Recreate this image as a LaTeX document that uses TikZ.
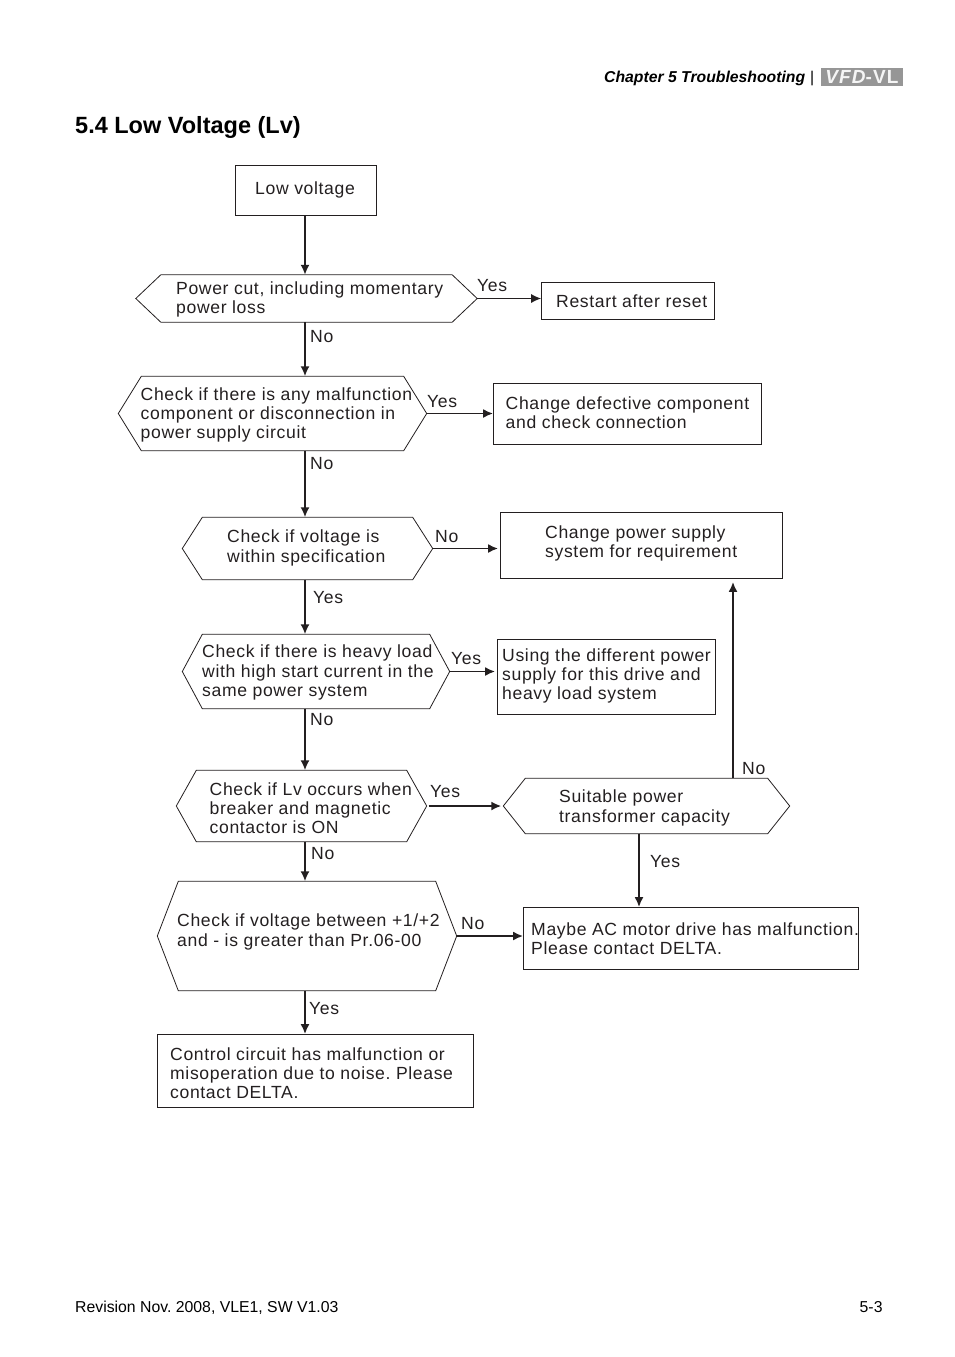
\documentclass[tikz,border=0pt]{standalone}
\usepackage{fontspec}
\setmainfont{Liberation Sans}
\newfontfamily\flowfont[LetterSpace=3.6]{Liberation Sans}
\newfontfamily\logofont[LetterSpace=6]{Liberation Sans}
\usepackage{tikz}
\usetikzlibrary{positioning,calc,arrows.meta}
\definecolor{inkblack}{RGB}{35,31,32}
\definecolor{logogray}{RGB}{150,150,150}
\tikzset{
  flowtext/.style={anchor=west,align=left,inner sep=0pt,text=inkblack,
        font=\frenchspacing\flowfont\fontsize{17.6}{19.3}\selectfont},
  yesno/.style={flowtext},
  framebox/.style={draw=inkblack,line width=0.8pt,rectangle,inner sep=0pt},
  hexbox/.style={rectangle,inner sep=0pt},
  hexline/.style={draw=inkblack,line width=0.8pt,line join=miter},
  flow/.style={-{Latex[length=10pt,width=9pt]},draw=inkblack,line width=1.8pt},
  flowthin/.style={-{Latex[length=10pt,width=9pt]},draw=inkblack,line width=1.1pt},
  pagetext/.style={anchor=west,inner sep=0pt,text=black}
}
\begin{document}
\begin{tikzpicture}[x=1pt,y=-1pt]
  \useasboundingbox (0,0) rectangle (954,1357);
  % page head and foot
  \node[pagetext,font=\bfseries\itshape\fontsize{15.75}{18}\selectfont] (chapter) at (604,78.5) {Chapter 5 Troubleshooting};
  \node[pagetext,font=\fontsize{15.6}{18}\selectfont] (bar) at (810,78.5) {|};
  \node[fill=logogray,minimum width=82pt,minimum height=18pt,inner sep=0pt,text=white!90!logogray,
        font=\logofont\bfseries\fontsize{19}{18}\selectfont] (logo) at (862,77) {\itshape VFD\upshape-VL};
  \node[pagetext,font=\bfseries\fontsize{23.5}{28}\selectfont] (title) at (75,127) {5.4 Low Voltage (Lv)};
  \node[pagetext,font=\frenchspacing\fontsize{15.8}{18}\selectfont] (rev) at (75,1308) {Revision Nov. 2008, VLE1, SW V1.03};
  \node[pagetext,font=\fontsize{15.8}{18}\selectfont] (pageno) at (859.5,1307) {5-3};
  % rectangles
  \foreach \n/\x/\y/\w/\h in {low/306/190.5/141/50, restart/628/301/173/37, defect/627.5/414/268/61,
      supply/641.5/545.5/282/66, diff/606.5/677/218/75, delta/691/938.5/335/62, noise/315.5/1071/316/73}{
    \node[framebox,minimum width=\w pt,minimum height=\h pt] (\n) at (\x,\y) {};
  }
  % hexagons
  \foreach \n/\x/\y/\w/\h in {cut/306.5/298.5/341/47, fault/272.5/413.5/308/74, spec/307.5/548.5/250/62,
      heavy/316/671.5/267/74, lv/301.5/806/250/71, cap/646.5/806/286/55, ratio/307/936/299/109}{
    \node[hexbox,minimum width=\w pt,minimum height=\h pt] (\n) at (\x,\y) {};
  }
  \foreach \n/\d in {cut/25, fault/23, spec/20, heavy/20, lv/20, cap/22, ratio/21}{
    \draw[hexline] (\n.west) -- ([xshift=\d pt]\n.north west) -- ([xshift=-\d pt]\n.north east)
      -- (\n.east) -- ([xshift=-\d pt]\n.south east) -- ([xshift=\d pt]\n.south west) -- cycle;
  }
  % box texts
  \node[flowtext] (lowtxt) at (255,189.5) {Low voltage};
  \node[flowtext] (cuttxt) at (176,299.5) {Power cut, including momentary\\power loss};
  \node[flowtext] (restarttxt) at (556,301) {Restart after reset};
  \node[flowtext] (faulttxt) at (140.5,415) {Check if there is any malfunction\\component or disconnection in\\power supply circuit};
  \node[flowtext] (defecttxt) at (505.5,413) {Change defective component\\and check connection};
  \node[flowtext] (spectxt) at (227,548) {Check if voltage is\\within specification};
  \node[flowtext] (supplytxt) at (545,543.5) {Change power supply\\system for requirement};
  \node[flowtext] (heavytxt) at (202,672.5) {Check if there is heavy load\\with high start current in the\\same power system};
  \node[flowtext] (difftxt) at (502,676) {Using the different power\\supply for this drive and\\heavy load system};
  \node[flowtext] (lvtxt) at (209.5,808) {Check if Lv occurs when\\breaker and magnetic\\contactor is ON};
  \node[flowtext] (captxt) at (559,808) {Suitable power\\transformer capacity};
  \node[flowtext] (ratiotxt) at (177,932) {Check if voltage between +1/+2\\and - is greater than Pr.06-00};
  \node[flowtext] (deltatxt) at (531,939) {Maybe AC motor drive has malfunction.\\Please contact DELTA.};
  \node[flowtext] (noisetxt) at (170,1073) {Control circuit has malfunction or\\misoperation due to noise. Please\\contact DELTA.};
  % connectors
  \coordinate (spine) at (305,0);
  \coordinate (capup) at (733,0);
  \coordinate (capdown) at (639,0);
  \draw[flow] (low.south -| spine) -- (cut.north -| spine);
  \draw[flow] (cut.south -| spine) -- (fault.north -| spine);
  \draw[flow] (fault.south -| spine) -- (spec.north -| spine);
  \draw[flow] (spec.south -| spine) -- (heavy.north -| spine);
  \draw[flow] (heavy.south -| spine) -- (lv.north -| spine);
  \draw[flow] (lv.south -| spine) -- (ratio.north -| spine);
  \draw[flow] (ratio.south -| spine) -- (noise.north -| spine);
  \draw[flowthin] (cut.east) -- (cut.east -| restart.west);
  \draw[flow] (fault.east) -- (fault.east -| defect.west);
  \draw[flow] (spec.east) -- ([xshift=-2pt]spec.east -| supply.west);
  \draw[flow] (heavy.east) -- ([xshift=-2pt]heavy.east -| diff.west);
  \draw[flow] ([xshift=2pt]lv.east) -- ([xshift=-2pt]lv.east -| cap.west);
  \draw[flow] (ratio.east) -- (ratio.east -| delta.west);
  \draw[flow] (cap.north -| capup) -- ([yshift=-3pt]supply.south -| capup);
  \draw[flow] (cap.south -| capdown) -- (delta.north -| capdown);
  % yes and no
  \foreach \n/\x/\y/\t in {a/477/286/Yes, b/310/337/No, c/427/402/Yes, d/310/464/No, e/435/537/No,
      f/313/598/Yes, g/451/659/Yes, h/310/720/No, i/430/792/Yes, j/742/769/No, k/311/854/No,
      l/650/862/Yes, m/461/924/No, n/309/1009/Yes}{
    \node[yesno] (tag\n) at (\x,\y) {\t};
  }
\end{tikzpicture}
\end{document}
